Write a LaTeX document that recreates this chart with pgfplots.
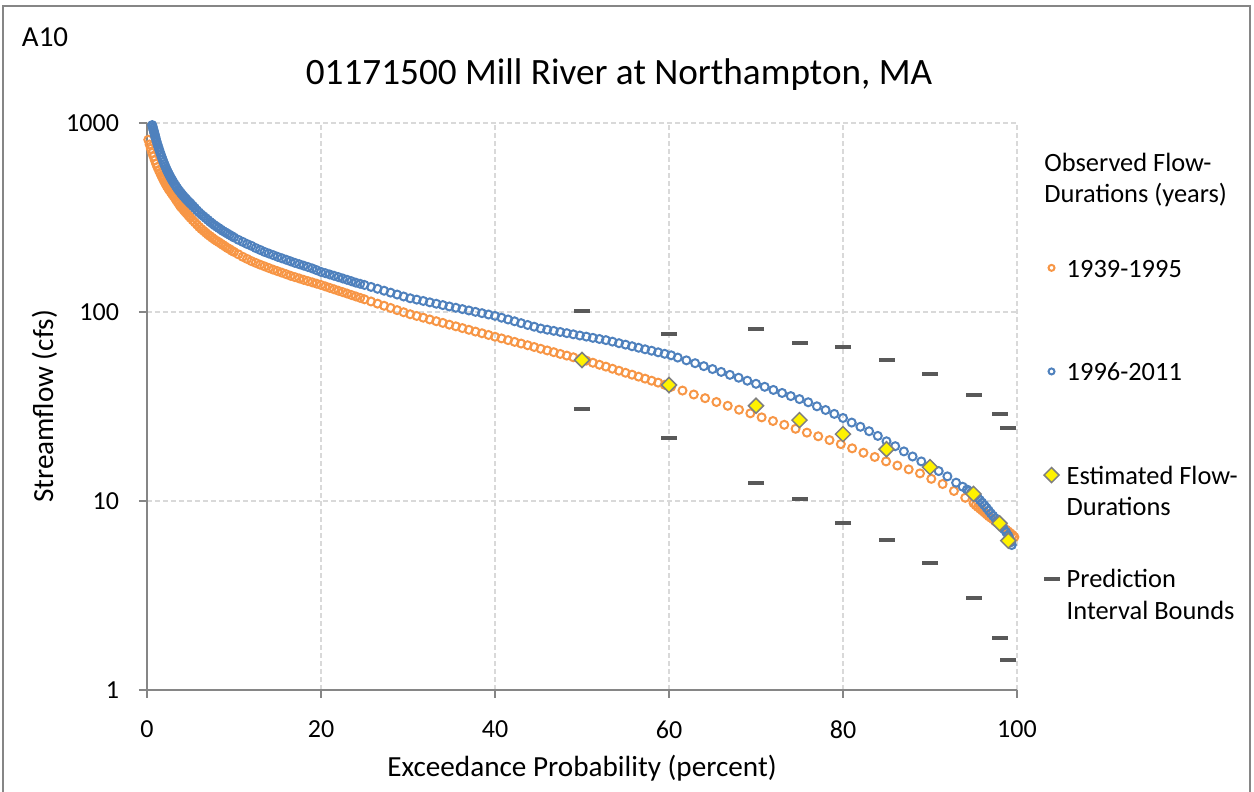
\documentclass[border=0pt]{standalone}
\usepackage{fontspec}
\setmainfont{Carlito}
\usepackage{pgfplots}
\pgfplotsset{compat=1.18}
\definecolor{oc}{HTML}{F79646}
\definecolor{bc}{HTML}{4F81BD}
\definecolor{axg}{HTML}{868686}
\definecolor{grd}{HTML}{D9D9D9}
\definecolor{dg}{HTML}{595959}
\definecolor{dmb}{HTML}{7F7F7F}
\begin{document}
\begin{tikzpicture}
\begin{axis}[
 scale only axis, width=435pt, height=283.5pt,
 ymode=log, xmin=0, xmax=100, ymin=1, ymax=1000,
 clip=false,
 axis lines*=left, axis line style={axg, line width=0.75pt},
 tick align=outside, major tick length=4pt, tick style={axg, line width=0.75pt},
 yminorticks=false, xminorticks=false,
 xtick={0,20,40,60,80,100}, xticklabels={0,20,40,60,80,100},
 ytick={1,10,100,1000}, yticklabels={1,10,100,1000},
 grid=major, major grid style={grd, dash pattern=on 2.5pt off 1.5pt, line width=0.6pt},
 ticklabel style={font=\fontsize{13}{15}\selectfont},
 xticklabel style={yshift=-8pt},
 yticklabel style={xshift=-6.5pt},
 xlabel={Exceedance Probability (percent)}, ylabel={Streamflow (cfs)},
 label style={font=\fontsize{14.6}{17}\selectfont},
 xlabel style={at={(axis description cs:0.5,-0.1527)}, anchor=base},
 ylabel style={at={(axis description cs:-0.108,0.5)}, anchor=base},
 legend style={draw=none, fill=none, at={(axis description cs:1.0305,0.7745)}, anchor=north west,
   inner sep=0pt, outer sep=0pt, row sep=35.2pt, column sep=1.6pt,
   font=\fontsize{13.2}{15.85}\selectfont, cells={anchor=base west, inner sep=0pt}},
 legend image code/.code={\draw[#1] plot coordinates {(0pt,4.6pt)};},
]
\coordinate (SW) at (rel axis cs:0,0);
\addplot[only marks, mark=o, mark size=2pt, color=oc, line width=1pt, legend image post style={mark size=1.5pt}] table {
x y
0.15 815
0.3 770
0.45 730
0.6 695
0.75 665
0.9 635
1.05 608
1.2 585
1.35 564
1.5 545
1.65 527
1.8 511
1.9 500
2.0 490
2.1 481
2.2 472
2.3 463
2.4 455
2.5 447
2.6 440
2.75 430
2.9 420
3.05 411
3.2 402
3.35 392
3.5 383
3.65 374
3.8 365
3.95 358
4.1 352
4.25 345
4.4 339
4.55 333
4.7 327
4.85 321
5.0 315
5.25 306
5.5 298
5.75 290
6.0 282
6.25 275
6.5 269
6.75 263
7.0 257
7.25 252
7.5 247
7.75 242
8.0 238
8.25 234
8.5 230
8.75 226
9.0 222
9.25 218
9.5 215
9.75 211
10 208
10.5 202
11 196
11.5 191
12 186
12.5 182
13 178
13.5 174.5
14 171
14.5 167.5
15 164.5
15.5 161.5
16 158.5
16.5 155.5
17 153
17.5 150.5
18 148
18.5 145.7
19 143.5
19.5 141.2
20 139
20.5 136.6
21 134.2
21.5 131.9
22 129.6
22.5 127.4
23 125.2
23.5 123
24 120.9
24.5 118.8
25 116.7
25.75 113.7
26.5 110.7
27.25 107.9
28 105.1
28.75 102.3
29.5 99.7
30.25 97.3
31 95.3
31.75 93.3
32.5 91.3
33.25 89.4
34 87.6
34.75 85.7
35.5 84.0
36.25 82.2
37 80.5
37.75 78.8
38.5 77.2
39.25 75.6
40 74.0
40.75 72.5
41.5 71.0
42.25 69.5
43 68.1
43.75 66.7
44.5 65.3
45.25 63.9
46 62.6
46.75 61.3
47.5 60.0
48.25 58.8
49 57.6
49.75 56.4
50.5 55.3
51.25 53.9
52 52.6
52.75 51.4
53.5 50.1
54.25 48.9
55 47.7
55.75 46.6
56.5 45.5
57.25 44.4
58 43.3
58.75 42.3
59.5 41.2
60.25 40.2
61.55 38.4
62.85 36.6
64.15 35.0
65.45 33.4
66.75 31.9
68.05 30.4
69.35 29.1
70.65 27.7
71.95 26.5
73.25 25.3
74.55 24.1
75.85 23.0
77.15 22.0
78.45 21.0
79.75 20.0
81.05 19.0
82.35 18.0
83.65 17.1
84.95 16.2
86.25 15.4
87.55 14.7
88.85 14.0
90.15 13.1
91.45 12.3
92.75 11.3
94.05 10.4
95.0 9.75
95.25 9.5
95.5 9.3
95.75 9.1
96 8.9
96.25 8.7
96.5 8.5
96.75 8.3
97 8.15
97.25 8.0
97.5 7.8
97.75 7.65
98 7.5
98.25 7.35
98.5 7.2
98.75 7.05
99 6.9
99.25 6.75
99.5 6.6
99.7 6.45
};
\addlegendentry{\begin{tabular}[t]{@{}l@{}}1939-1995\\ \mbox{}\end{tabular}}
\addplot[only marks, mark=o, mark size=2pt, color=bc, line width=1pt, legend image post style={mark size=1.5pt}] table {
x y
0.6 975
0.65 955
0.7 935
0.75 917
0.8 900
0.85 882
0.9 865
0.95 847
1.0 830
1.1 800
1.2 772
1.3 747
1.4 723
1.5 700
1.6 679
1.7 659
1.8 640
1.9 622
2.0 605
2.1 590
2.2 575
2.3 562
2.4 550
2.5 538
2.6 527
2.7 517
2.8 507
2.9 498
3.0 489
3.15 477
3.3 465
3.45 454
3.6 444
3.75 435
3.9 426
4.05 418
4.2 410
4.35 403
4.5 396
4.65 389
4.8 383
4.95 377
5.1 371
5.3 363
5.5 355
5.75 345
6.0 336
6.25 328
6.5 321
6.75 314
7.0 307
7.25 300
7.5 294
7.75 288
8.0 283
8.25 278
8.5 273
8.75 268
9.0 264
9.25 260
9.5 256
9.75 252
10 248
10.5 241
11 235
11.5 229
12 224
12.5 218
13 213
13.5 208
14 204
14.5 200
15 196
15.5 192.5
16 189
16.5 185.5
17 182
17.5 179
18 176
18.5 173
19 170
19.5 166.5
20 163
20.5 160.5
21 158
21.5 155.5
22 153
22.5 150.5
23 148
23.5 145.5
24 143
24.5 141
25 139
25.75 135.8
26.5 132.7
27.25 129.6
28 126.6
28.75 123.7
29.5 120.8
30.25 118.2
31 116.3
31.75 114.4
32.5 112.5
33.25 110.6
34 108.8
34.75 107.0
35.5 105.3
36.25 103.6
37 101.9
37.75 100.2
38.5 98.6
39.25 97.0
40 95.4
40.75 93.3
41.5 91.3
42.25 89.3
43 87.3
43.75 85.4
44.5 83.6
45.25 81.8
46 80.6
46.75 79.5
47.5 78.4
48.25 77.3
49 76.2
49.75 75.1
50.5 74.1
51.25 73.0
52 72.0
52.75 71.0
53.5 69.7
54.25 68.4
55 67.2
55.75 65.9
56.5 64.7
57.25 63.5
58 62.4
58.75 61.2
59.5 60.1
60.25 59.0
61 57.4
62 55.5
63 53.6
64 51.7
65 49.9
66 48.2
67 46.5
68 44.9
69 43.3
70 41.7
71 40.2
72 38.7
73 37.3
74 35.9
75 34.6
76 33.3
77 31.7
78 30.3
79 28.9
80 27.5
81 26.0
82 24.7
83 23.4
84 22.1
85 20.7
86 19.5
87 18.3
88 17.2
89 16.2
90 15.3
91 14.4
92 13.5
93 12.5
93.75 11.9
94.25 11.5
94.5 11.3
94.75 11.1
95 10.9
95.25 10.7
95.5 10.4
95.75 10.1
96 9.8
96.25 9.5
96.5 9.2
96.75 8.9
97 8.6
97.25 8.35
97.5 8.1
97.75 7.85
98 7.6
98.25 7.35
98.5 7.1
98.75 6.85
99 6.55
99.15 6.3
99.3 6.05
99.4 5.85
};
\addlegendentry{\begin{tabular}[t]{@{}l@{}}1996-2011\\ \mbox{}\end{tabular}}
\addplot[only marks, mark=square*, mark size=2.65pt, mark options={rotate=45, fill=yellow, draw=dmb, line width=0.75pt}] table {
x y
50 55.7
60 41.1
70 31.9
75 26.8
80 22.6
85 18.8
90 15.1
95 10.9
98 7.62
99 6.17
};
\addlegendentry{\begin{tabular}[t]{@{}l@{}}Estimated Flow-\\Durations\end{tabular}}
\addplot[only marks, mark=-, mark size=4pt, mark options={line width=2pt, color=dg}] table {
x y
50 101.6
50 30.5
60 76.8
60 21.6
70 81.6
70 12.4
75 68.9
75 10.3
80 65.5
80 7.67
85 56.0
85 6.25
90 47.2
90 4.71
95 36.5
95 3.07
98 28.9
98 1.88
99 24.4
99 1.44
};
\addlegendentry{\begin{tabular}[t]{@{}l@{}}Prediction\\Interval Bounds\end{tabular}}
\end{axis}
\path[use as bounding box] ([shift={(-73.5pt,-51pt)}]SW) rectangle ([shift={(553.5pt,345pt)}]SW);
\draw[axg, line width=1pt] ([shift={(-72.2pt,-53pt)}]SW) -- ([shift={(-72.2pt,342pt)}]SW) -- ([shift={(551.5pt,342pt)}]SW) -- ([shift={(551.5pt,-53pt)}]SW);
\node[anchor=base, inner sep=0pt, font=\fontsize{18.6}{22}\selectfont] at ([shift={(236pt,302.5pt)}]SW) {01171500 Mill River at Northampton, MA};
\node[anchor=base west, inner sep=0pt, font=\fontsize{14.5}{17}\selectfont] at ([shift={(-62.7pt,321.5pt)}]SW) {A10};
\node[anchor=base west, inner sep=0pt, font=\fontsize{13.2}{15.85}\selectfont] at ([shift={(448.5pt,259.15pt)}]SW) {Observed Flow-};
\node[anchor=base west, inner sep=0pt, font=\fontsize{13.2}{15.85}\selectfont] at ([shift={(448.5pt,243.5pt)}]SW) {Durations (years)};
\end{tikzpicture}
\end{document}
